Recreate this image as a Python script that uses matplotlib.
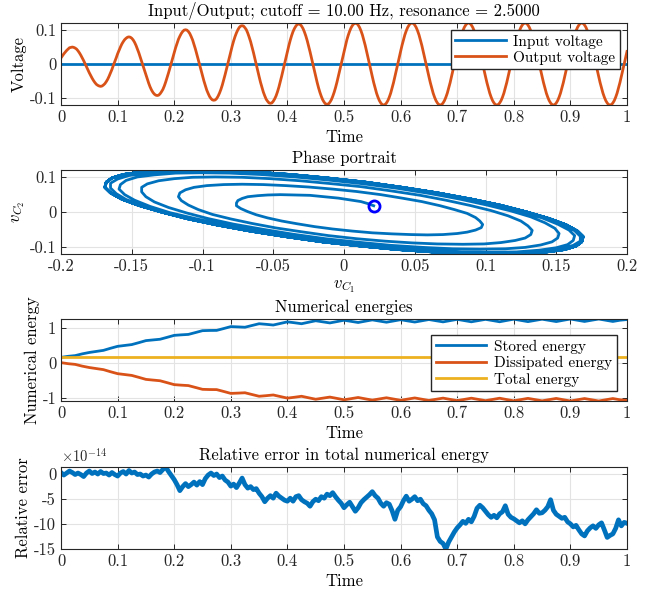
import numpy as np
import matplotlib
matplotlib.use("Agg")
import matplotlib.pyplot as plt
from matplotlib.ticker import FuncFormatter

plt.rcParams.update({
    "font.family": "cmr10",
    "mathtext.fontset": "cm",
    "axes.formatter.use_mathtext": True,
    "font.size": 12,
})

BLUE, ORANGE, YELLOW = "#0072BD", "#D95319", "#EDB120"
DARK = "#262626"

# ---- data ----
# voltages sampled every 0.0025 s
t_volt = np.linspace(0, 1, 401)
v_in = [0.0] * 401
v_out = [
    0.018, 0.024, 0.030, 0.035, 0.040, 0.044, 0.048, 0.049,
    0.050, 0.049, 0.047, 0.044, 0.039, 0.033, 0.026, 0.018, 0.010, 0.001,
    -0.008, -0.017, -0.026, -0.034, -0.042, -0.049, -0.055, -0.060, -0.063, -0.065,
    -0.066, -0.065, -0.062, -0.058, -0.052, -0.045, -0.036, -0.026, -0.016, -0.004,
    0.007, 0.018, 0.030, 0.040, 0.050, 0.059, 0.066, 0.072, 0.076, 0.079,
    0.080, 0.079, 0.076, 0.071, 0.064, 0.055, 0.044, 0.033, 0.020, 0.007,
    -0.007, -0.020, -0.033, -0.046, -0.057, -0.068, -0.077, -0.084, -0.089, -0.092,
    -0.093, -0.092, -0.088, -0.082, -0.075, -0.065, -0.053, -0.040, -0.026, -0.011,
    0.004, 0.019, 0.034, 0.048, 0.061, 0.073, 0.082, 0.090, 0.096, 0.100,
    0.101, 0.100, 0.096, 0.090, 0.081, 0.071, 0.058, 0.044, 0.029, 0.013,
    -0.003, -0.019, -0.035, -0.050, -0.064, -0.077, -0.087, -0.096, -0.102, -0.106,
    -0.107, -0.106, -0.102, -0.095, -0.086, -0.075, -0.062, -0.047, -0.031, -0.014,
    0.003, 0.020, 0.037, 0.053, 0.068, 0.081, 0.092, 0.101, 0.108, 0.112,
    0.113, 0.112, 0.107, 0.101, 0.091, 0.079, 0.066, 0.050, 0.034, 0.016,
    -0.002, -0.019, -0.037, -0.054, -0.069, -0.083, -0.094, -0.104, -0.110, -0.115,
    -0.116, -0.115, -0.110, -0.103, -0.094, -0.082, -0.068, -0.052, -0.035, -0.017,
    0.001, 0.019, 0.037, 0.054, 0.070, 0.084, 0.096, 0.105, 0.112, 0.117,
    0.118, 0.117, 0.112, 0.105, 0.095, 0.083, 0.069, 0.053, 0.036, 0.018,
    -0.001, -0.019, -0.037, -0.054, -0.070, -0.084, -0.096, -0.106, -0.113, -0.118,
    -0.119, -0.118, -0.113, -0.106, -0.096, -0.084, -0.070, -0.054, -0.036, -0.018,
    0.001, 0.019, 0.037, 0.055, 0.071, 0.085, 0.097, 0.107, 0.114, 0.119,
    0.120, 0.120, 0.115, 0.108, 0.098, 0.086, 0.071, 0.055, 0.037, 0.019,
    0.000, -0.019, -0.037, -0.055, -0.071, -0.086, -0.098, -0.108, -0.115, -0.120,
    -0.121, -0.120, -0.115, -0.108, -0.098, -0.086, -0.071, -0.055, -0.037, -0.019,
    0.000, 0.019, 0.037, 0.055, 0.071, 0.086, 0.098, 0.108, 0.115, 0.120,
    0.121, 0.120, 0.115, 0.108, 0.098, 0.086, 0.071, 0.055, 0.037, 0.019,
    0.000, -0.019, -0.037, -0.055, -0.071, -0.086, -0.098, -0.108, -0.115, -0.120,
    -0.121, -0.120, -0.115, -0.108, -0.098, -0.086, -0.071, -0.055, -0.037, -0.019,
    0.000, 0.019, 0.037, 0.055, 0.071, 0.086, 0.098, 0.108, 0.115, 0.120,
    0.121, 0.120, 0.115, 0.108, 0.098, 0.086, 0.071, 0.055, 0.037, 0.019,
    0.000, -0.019, -0.037, -0.055, -0.071, -0.086, -0.098, -0.108, -0.115, -0.120,
    -0.121, -0.120, -0.115, -0.108, -0.098, -0.086, -0.071, -0.055, -0.037, -0.019,
    0.000, 0.019, 0.037, 0.055, 0.071, 0.086, 0.098, 0.108, 0.115, 0.120,
    0.121, 0.120, 0.115, 0.108, 0.098, 0.086, 0.071, 0.055, 0.037, 0.019,
    0.000, -0.019, -0.037, -0.055, -0.071, -0.086, -0.098, -0.108, -0.115, -0.120,
    -0.121, -0.120, -0.115, -0.108, -0.098, -0.086, -0.071, -0.055, -0.037, -0.019,
    0.000, 0.019, 0.037, 0.055, 0.071, 0.086, 0.098, 0.108, 0.115, 0.120,
    0.121, 0.120, 0.115, 0.108, 0.098, 0.086, 0.071, 0.055, 0.037, 0.019,
    0.000, -0.019, -0.037, -0.055, -0.071, -0.086, -0.098, -0.108, -0.115, -0.120,
    -0.121, -0.120, -0.115, -0.108, -0.098, -0.086, -0.071, -0.055, -0.037, -0.019,
    0.000, 0.019, 0.037,
]
v_c1 = [
    0.021, 0.017, 0.012, 0.004, -0.004, -0.014, -0.024, -0.035,
    -0.045, -0.054, -0.061, -0.068, -0.072, -0.075, -0.076, -0.076, -0.073, -0.068,
    -0.062, -0.054, -0.044, -0.033, -0.021, -0.008, 0.006, 0.020, 0.034, 0.047,
    0.059, 0.070, 0.080, 0.087, 0.093, 0.097, 0.098, 0.096, 0.093, 0.087,
    0.078, 0.068, 0.055, 0.041, 0.026, 0.009, -0.008, -0.025, -0.041, -0.057,
    -0.072, -0.085, -0.097, -0.106, -0.112, -0.116, -0.117, -0.115, -0.110, -0.103,
    -0.093, -0.080, -0.065, -0.048, -0.030, -0.011, 0.009, 0.029, 0.048, 0.066,
    0.084, 0.099, 0.111, 0.121, 0.128, 0.132, 0.133, 0.130, 0.125, 0.116,
    0.104, 0.089, 0.072, 0.054, 0.033, 0.012, -0.010, -0.031, -0.052, -0.072,
    -0.091, -0.107, -0.120, -0.131, -0.139, -0.143, -0.143, -0.140, -0.134, -0.124,
    -0.111, -0.096, -0.078, -0.057, -0.036, -0.013, 0.010, 0.033, 0.056, 0.077,
    0.096, 0.114, 0.128, 0.139, 0.147, 0.151, 0.152, 0.149, 0.142, 0.132,
    0.118, 0.101, 0.082, 0.061, 0.038, 0.014, -0.011, -0.035, -0.059, -0.081,
    -0.102, -0.119, -0.134, -0.146, -0.154, -0.158, -0.159, -0.155, -0.148, -0.137,
    -0.123, -0.105, -0.085, -0.063, -0.039, -0.014, 0.011, 0.036, 0.061, 0.083,
    0.104, 0.122, 0.138, 0.150, 0.158, 0.162, 0.163, 0.159, 0.151, 0.140,
    0.125, 0.107, 0.087, 0.064, 0.040, 0.014, -0.012, -0.037, -0.062, -0.085,
    -0.106, -0.125, -0.140, -0.152, -0.160, -0.165, -0.165, -0.161, -0.154, -0.142,
    -0.127, -0.109, -0.088, -0.065, -0.040, -0.014, 0.012, 0.038, 0.063, 0.086,
    0.107, 0.126, 0.142, 0.154, 0.162, 0.167, 0.167, 0.163, 0.155, 0.143,
    0.128, 0.110, 0.089, 0.066, 0.041, 0.015, -0.012, -0.038, -0.063, -0.086,
    -0.109, -0.128, -0.143, -0.156, -0.164, -0.168, -0.169, -0.165, -0.157, -0.145,
    -0.129, -0.111, -0.090, -0.066, -0.041, -0.015, 0.012, 0.038, 0.063, 0.087,
    0.109, 0.128, 0.143, 0.156, 0.164, 0.168, 0.169, 0.165, 0.157, 0.145,
    0.129, 0.111, 0.090, 0.066, 0.041, 0.015, -0.012, -0.038, -0.063, -0.087,
    -0.109, -0.128, -0.143, -0.156, -0.164, -0.168, -0.169, -0.165, -0.157, -0.145,
    -0.129, -0.111, -0.090, -0.066, -0.041, -0.015, 0.012, 0.038, 0.063, 0.087,
    0.109, 0.128, 0.143, 0.156, 0.164, 0.168, 0.169, 0.165, 0.157, 0.145,
    0.129, 0.111, 0.090, 0.066, 0.041, 0.015, -0.012, -0.038, -0.063, -0.087,
    -0.109, -0.128, -0.143, -0.156, -0.164, -0.168, -0.169, -0.165, -0.157, -0.145,
    -0.129, -0.111, -0.090, -0.066, -0.041, -0.015, 0.012, 0.038, 0.063, 0.087,
    0.109, 0.128, 0.143, 0.156, 0.164, 0.168, 0.169, 0.165, 0.157, 0.145,
    0.129, 0.111, 0.090, 0.066, 0.041, 0.015, -0.012, -0.038, -0.063, -0.087,
    -0.109, -0.128, -0.143, -0.156, -0.164, -0.168, -0.169, -0.165, -0.157, -0.145,
    -0.129, -0.111, -0.090, -0.066, -0.041, -0.015, 0.012, 0.038, 0.063, 0.087,
    0.109, 0.128, 0.143, 0.156, 0.164, 0.168, 0.169, 0.165, 0.157, 0.145,
    0.129, 0.111, 0.090, 0.066, 0.041, 0.015, -0.012, -0.038, -0.063, -0.087,
    -0.109, -0.128, -0.143, -0.156, -0.164, -0.168, -0.169, -0.165, -0.157, -0.145,
    -0.129, -0.111, -0.090, -0.066, -0.041, -0.015, 0.012, 0.038, 0.063, 0.087,
    0.109, 0.128, 0.143, 0.156, 0.164, 0.168, 0.169, 0.165, 0.157, 0.145,
    0.129, 0.111, 0.090,
]

# energies sampled every 0.0125 s
t_energy = np.linspace(0, 1, 81)
stored_energy = [
    0.15, 0.18, 0.20, 0.25, 0.29, 0.32, 0.35, 0.41, 0.465, 0.49,
    0.515, 0.57, 0.628, 0.648, 0.667, 0.722, 0.778, 0.793, 0.805, 0.858,
    0.912, 0.918, 0.920, 0.973, 1.028, 1.02, 1.01, 1.06, 1.11, 1.093,
    1.073, 1.118, 1.163, 1.138, 1.11, 1.153, 1.195, 1.164, 1.133, 1.171,
    1.21, 1.178, 1.145, 1.183, 1.22, 1.186, 1.153, 1.189, 1.225, 1.191,
    1.158, 1.194, 1.23, 1.196, 1.163, 1.199, 1.235, 1.20, 1.165, 1.20,
    1.235, 1.201, 1.166, 1.204, 1.24, 1.205, 1.17, 1.205, 1.24, 1.206,
    1.172, 1.209, 1.245, 1.21, 1.175, 1.21, 1.245, 1.21, 1.175, 1.21, 1.23,
]
dissipated_energy = [
    0.0, -0.03, -0.05, -0.10, -0.14, -0.17, -0.20, -0.26, -0.315, -0.34,
    -0.365, -0.42, -0.478, -0.498, -0.517, -0.572, -0.628, -0.643, -0.655, -0.708,
    -0.762, -0.768, -0.77, -0.823, -0.878, -0.87, -0.86, -0.91, -0.96, -0.943,
    -0.923, -0.968, -1.013, -0.988, -0.96, -1.003, -1.045, -1.014, -0.983, -1.021,
    -1.06, -1.028, -0.995, -1.033, -1.07, -1.036, -1.003, -1.039, -1.075, -1.041,
    -1.008, -1.044, -1.08, -1.046, -1.013, -1.049, -1.085, -1.05, -1.015, -1.05,
    -1.085, -1.051, -1.016, -1.054, -1.09, -1.055, -1.02, -1.055, -1.09, -1.056,
    -1.022, -1.059, -1.095, -1.06, -1.025, -1.06, -1.095, -1.06, -1.025, -1.06, -1.08,
]
total_energy = [0.15] * 81

# relative error (units of 1e-14), sampled every 0.005 s
t_err = np.linspace(0, 1, 201)
rel_err_e14 = [
    0.2, -0.3, 0.1, 0.5, 0.2, -0.2, 0.1, -0.2, -0.6, 0.1,
    0.5, 0.0, 0.3, -0.1, 0.4, 0.0, 0.1, -0.3, 0.2, -0.2,
    -0.5, 0.1, 0.4, -0.1, 0.6, 0.1, 0.3, -0.2, -0.1, -0.5,
    -0.3, -0.7, -0.1, 0.3, 0.5, 0.2, 0.8, 1.3, 0.4, -0.4,
    -1.2, -2.2, -3.4, -2.6, -2.0, -2.6, -2.2, -1.7, -2.3, -1.6,
    -2.2, -1.0, -0.3, 0.1, -0.4, -0.1, -0.8, -0.5, -1.3, -1.7,
    -2.5, -2.1, -2.8, -1.9, -0.9, -2.2, -2.9, -2.6, -3.2, -3.0,
    -3.9, -4.6, -5.6, -4.9, -4.4, -4.9, -3.9, -4.5, -4.9, -5.3,
    -5.5, -4.9, -5.5, -4.6, -4.4, -5.2, -5.6, -5.9, -6.5, -5.6,
    -5.1, -5.4, -4.6, -4.9, -4.1, -4.4, -3.8, -4.6, -5.3, -5.9,
    -6.8, -6.2, -5.7, -6.6, -7.5, -6.8, -5.8, -5.2, -4.7, -4.2,
    -3.6, -4.4, -4.9, -5.9, -6.5, -5.8, -6.1, -7.4, -9.1, -7.3,
    -6.6, -5.4, -4.5, -5.5, -5.1, -4.6, -5.4, -5.1, -6.0, -6.4,
    -7.3, -8.0, -9.2, -12.6, -13.5, -13.9, -15.0, -13.6, -12.6, -11.6,
    -10.8, -10.2, -9.5, -9.9, -9.1, -9.6, -8.5, -6.9, -6.3, -6.8,
    -7.5, -8.2, -8.7, -8.3, -8.8, -8.0, -7.6, -6.4, -8.1, -8.7,
    -9.0, -9.4, -9.8, -9.4, -10.0, -9.2, -8.6, -8.0, -7.2, -7.9,
    -7.8, -7.3, -6.6, -5.2, -7.3, -8.1, -8.5, -8.9, -8.7, -9.6,
    -10.0, -10.6, -10.3, -11.2, -12.0, -12.4, -11.4, -10.8, -10.4, -10.9,
    -10.2, -9.8, -11.2, -12.7, -12.3, -12.0, -10.9, -9.2, -10.4, -9.7,
    -9.9,
]
rel_err = np.array(rel_err_e14) * 1e-14


def fmt(v, _):
    return "%g" % (0.0 if abs(v) < 1e-12 else round(v, 6))


def fmt14(v, _):
    return fmt(v / 1e-14, None)


def style(ax):
    ax.grid(True, color="#e3e3e3", lw=0.8)
    ax.set_axisbelow(True)
    ax.tick_params(direction="in", top=True, right=True, length=3.5,
                   width=0.7, colors=DARK, labelsize=12)
    for s in ax.spines.values():
        s.set_color(DARK)
        s.set_linewidth(0.8)
    ax.xaxis.set_major_formatter(FuncFormatter(fmt))
    ax.yaxis.set_major_formatter(FuncFormatter(fmt))


leg_kw = dict(loc="upper right", fontsize=11, handlelength=3.3, fancybox=False,
              framealpha=1, edgecolor=DARK, borderaxespad=0, borderpad=0.3,
              labelspacing=0.15, handletextpad=0.5)

fig = plt.figure(figsize=(6.54, 5.92), dpi=100)
L, W = 61 / 654, 566 / 654
ax1 = fig.add_axes([L, 1 - 105 / 592, W, 82 / 592])
ax2 = fig.add_axes([L, 1 - 254 / 592, W, 84 / 592])
ax3 = fig.add_axes([L, 1 - 401 / 592, W, 82 / 592])
ax4 = fig.add_axes([L, 1 - 549 / 592, W, 82 / 592])

tticks = np.linspace(0, 1, 11)

# Input / output
ax1.plot(t_volt, v_in, color=BLUE, lw=2, label="Input voltage")
ax1.plot(t_volt, v_out, color=ORANGE, lw=2, label="Output voltage")
ax1.set_xlim(0, 1)
ax1.set_ylim(min(v_out), max(v_out))
ax1.set_xticks(tticks)
ax1.set_yticks([-0.1, 0, 0.1])
style(ax1)
ax1.set_title("Input/Output; cutoff = 10.00 Hz, resonance = 2.5000", fontsize=12, pad=5)
ax1.set_xlabel("Time", labelpad=3)
ax1.set_ylabel("Voltage", labelpad=2)
ax1.legend(bbox_to_anchor=(0.988, 0.915), **leg_kw)

# Phase portrait
ax2.plot(v_c1, v_out, color=BLUE, lw=2, solid_joinstyle="round")
ax2.plot(v_c1[0], v_out[0], "o", mfc="none", mec="b", ms=8, mew=2)
ax2.set_xlim(-0.2, 0.2)
ax2.set_ylim(min(v_out), max(v_out))
ax2.set_xticks(np.linspace(-0.2, 0.2, 9))
ax2.set_yticks([-0.1, 0, 0.1])
style(ax2)
ax2.set_title("Phase portrait", fontsize=12, pad=5)
ax2.set_xlabel(r"$v_{C_1}$", labelpad=3)
ax2.set_ylabel(r"$v_{C_2}$", labelpad=2)

# Energies
ax3.plot(t_energy, stored_energy, color=BLUE, lw=2, label="Stored energy")
ax3.plot(t_energy, dissipated_energy, color=ORANGE, lw=2, label="Dissipated energy")
ax3.plot(t_energy, total_energy, color=YELLOW, lw=2, label="Total energy")
ax3.set_xlim(0, 1)
ax3.set_ylim(min(dissipated_energy), max(stored_energy))
ax3.set_xticks(tticks)
ax3.set_yticks([-1, 0, 1])
style(ax3)
ax3.set_title("Numerical energies", fontsize=12, pad=5)
ax3.set_xlabel("Time", labelpad=3)
ax3.set_ylabel("Numerical energy", labelpad=2)
ax3.legend(bbox_to_anchor=(0.982, 0.805), **leg_kw)

# Relative error
ax4.plot(t_err, rel_err, color=BLUE, lw=3.4)
ax4.set_xlim(0, 1)
ax4.set_ylim(rel_err.min(), rel_err.max())
ax4.set_xticks(tticks)
ax4.set_yticks(np.array([-15, -10, -5, 0]) * 1e-14)
style(ax4)
ax4.yaxis.set_major_formatter(FuncFormatter(fmt14))
ax4.text(0, 1.03, r"$\times10^{-14}$", transform=ax4.transAxes, ha="left",
         va="bottom", fontsize=10.5, color=DARK)
ax4.set_title("Relative error in total numerical energy", fontsize=12, pad=5)
ax4.set_xlabel("Time", labelpad=3)
ax4.set_ylabel("Relative error", labelpad=2)

fig.savefig("out.png", dpi=100)
